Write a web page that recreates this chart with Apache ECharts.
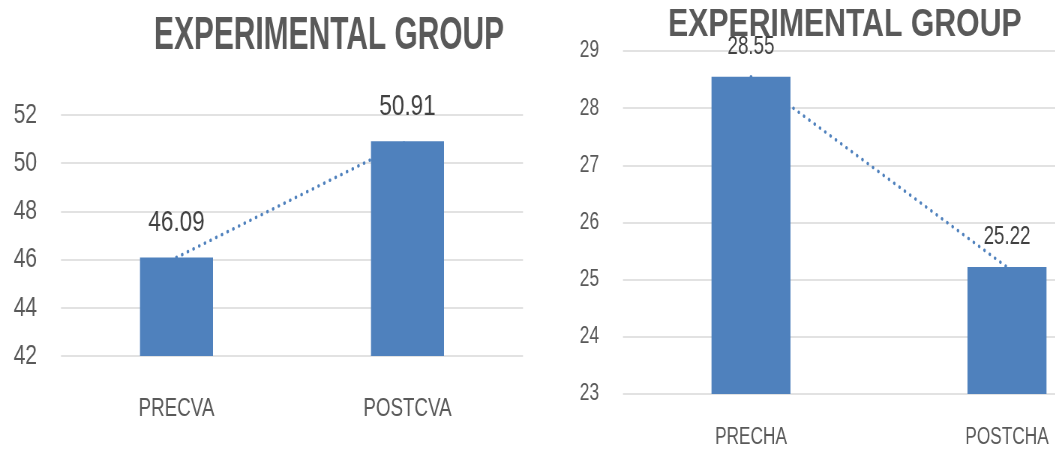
<!DOCTYPE html>
<html>
<head>
<meta charset="utf-8">
<script src="https://cdn.jsdelivr.net/npm/echarts@6/dist/echarts.min.js"></script>
<style>
html,body{margin:0;padding:0;background:#fff;overflow:hidden;width:1055px;height:450px;}
#wrap{width:1055px;height:450px;overflow:hidden;position:relative;}
#c{width:1520px;height:450px;transform:scaleX(0.75);transform-origin:0 0;}
</style>
</head>
<body>
<div id="wrap"><div id="c"></div></div>
<script>
const titleText = 'EXPERIMENTAL GROUP';
const cvaCategories = ['PRECVA', 'POSTCVA'];
const cvaValues = [46.09, 50.91];
const cvaTicks = { min: 42, max: 52, interval: 2 };
const chaCategories = ['PRECHA', 'POSTCHA'];
const chaValues = [28.55, 25.22];
const chaTicks = { min: 23, max: 29, interval: 1 };

const S = 0.75; // horizontal squeeze of the whole picture
const FONT = "'Liberation Sans', Arial, sans-serif";
const BLUE = '#4F81BD';
const GRAY = '#595959';
const GRID = '#d9d9d9';

const chart = echarts.init(document.getElementById('c'), null, { renderer: 'canvas' });

function yAxis(gridIndex, t, fs) {
  return {
    type: 'value', gridIndex: gridIndex, min: t.min, max: t.max, interval: t.interval,
    axisLine: { show: false }, axisTick: { show: false },
    axisLabel: { color: GRAY, fontFamily: FONT, fontSize: fs, margin: 24 / S },
    splitLine: { lineStyle: { color: GRID, width: 1.5 } }
  };
}
function xAxis(gridIndex, cats, fs, margin) {
  return {
    type: 'category', gridIndex: gridIndex, data: cats,
    axisLine: { show: false }, axisTick: { show: false },
    axisLabel: { color: GRAY, fontFamily: FONT, fontSize: fs, margin: margin }
  };
}
function barSeries(idx, vals, bw, fs, dist) {
  return {
    type: 'bar', xAxisIndex: idx, yAxisIndex: idx, data: vals, barWidth: bw / S, z: 3,
    itemStyle: { color: BLUE },
    label: { show: true, position: 'top', distance: dist, color: '#404040', fontFamily: FONT, fontSize: fs,
      formatter: p => p.value.toFixed(2) }
  };
}
function lineSeries(idx, vals) {
  return {
    type: 'line', xAxisIndex: idx, yAxisIndex: idx, data: vals, z: 2,
    symbol: 'none', silent: true,
    lineStyle: { color: BLUE, width: 3.5, type: [0.1, 8], cap: 'round' }
  };
}

chart.setOption({
  animation: false,
  backgroundColor: '#fff',
  grid: [
    { left: 61 / S, top: 115, width: 462 / S, height: 241 },
    { left: 623 / S, top: 51, width: 512 / S, height: 343 }
  ],
  xAxis: [xAxis(0, cvaCategories, 25, 41), xAxis(1, chaCategories, 23, 32)],
  yAxis: [yAxis(0, cvaTicks, 28), yAxis(1, chaTicks, 23)],
  series: [
    lineSeries(0, cvaValues), barSeries(0, cvaValues, 73, 30, 20),
    lineSeries(1, chaValues), barSeries(1, chaValues, 79, 25, 17)
  ],
  graphic: [
    { type: 'text', x: 154 / S, y: 36, scaleX: 0.867, originX: 0, originY: 0,
      style: { text: titleText, font: "bold 46px " + FONT, fill: GRAY, textVerticalAlign: 'middle' } },
    { type: 'text', x: 668 / S, y: 26, scaleX: 1.06, originX: 0, originY: 0,
      style: { text: titleText, font: "bold 38px " + FONT, fill: GRAY, textVerticalAlign: 'middle' } }
  ]
});
</script>
</body>
</html>
